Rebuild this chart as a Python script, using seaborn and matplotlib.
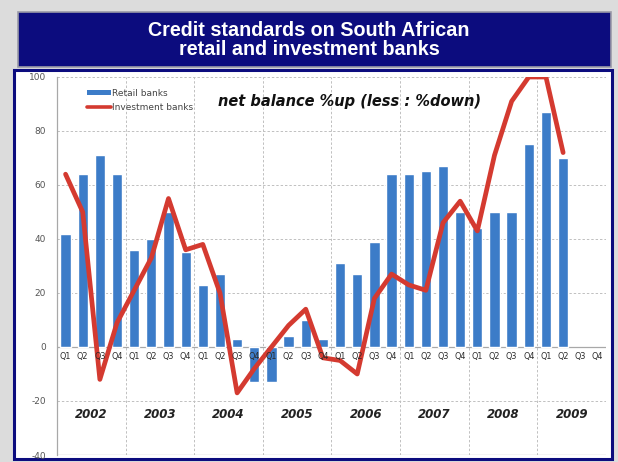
import numpy as np
import pandas as pd
import seaborn as sns
import matplotlib
matplotlib.use("Agg")
import matplotlib.pyplot as plt
from matplotlib.patches import Rectangle
from matplotlib.lines import Line2D
from matplotlib.patches import Patch

# ---- data ----
years = ["2002", "2003", "2004", "2005", "2006", "2007", "2008", "2009"]
quarter_names = ["Q1", "Q2", "Q3", "Q4"]
retail = [42, 64, 71, 64,
          36, 40, 50, 35,
          23, 27, 3, -13,
          -13, 4, 10, 3,
          31, 27, 39, 64,
          64, 65, 67, 50,
          44, 50, 50, 75,
          87, 70, np.nan, np.nan]
investment = [64, 50, -12, 9,
              21, 33, 55, 36,
              38, 20, -17, -8,
              0, 8, 14, -4,
              -5, -10, 18, 27,
              23, 21, 46, 54,
              43, 71, 91, 100,
              100, 72, np.nan, np.nan]
y_ticks = [-40, -20, 0, 20, 40, 60, 80, 100]
title = "Credit standards on South African\nretail and investment banks"
note = "net balance %up (less : %down)"

labels_q = [q for y in years for q in quarter_names]
df = pd.DataFrame({
    "pos": np.arange(len(labels_q)),
    "quarter": labels_q,
    "year": [y for y in years for q in quarter_names],
    "retail": retail,
    "investment": investment,
})

sns.set_theme(style="white")
plt.rcParams['font.family'] = ['DejaVu Sans']

BAR = "#3c7cc8"
RED = "#d43a30"
NAVY = "#0c0c7e"

fig = plt.figure(figsize=(6.18, 4.62), dpi=100)
fig.patch.set_facecolor("#dcdcdc")

# title box and chart frame
fig.patches.append(Rectangle((0.029, 0.855), 0.9595, 0.119, transform=fig.transFigure,
                             facecolor=NAVY, edgecolor="#9a9aa8", lw=1.2, zorder=-2))
fig.patches.append(Rectangle((0.0227, 0.0065), 0.9676, 0.842, transform=fig.transFigure,
                             facecolor="white", edgecolor=NAVY, lw=2.2, zorder=-2))
fig.text(0.5, 0.9145, title, ha="center", va="center", color="white",
         fontsize=14.2, fontweight="bold", family="Liberation Sans", linespacing=1.0)

ax = fig.add_axes([0.0922, 0.01515, 0.8884, 0.8182])
ax.set_facecolor("white")

sns.barplot(data=df.dropna(subset=["retail"]), x="pos", y="retail", native_scale=True,
            color=BAR, saturation=1, width=0.6, ax=ax, zorder=3)
sns.lineplot(data=df, x="pos", y="investment", color=RED, lw=3.4, ax=ax, zorder=4)

ax.set_xlim(-0.5, len(labels_q) - 0.5)
ax.set_ylim(-40, 100)
ax.set_yticks(y_ticks)
ax.set_yticklabels([str(t) for t in y_ticks], fontsize=6.5, color="#555555")
ax.tick_params(axis="y", length=0, pad=8)
ax.set_xticks([])
ax.set_xlabel("")
ax.set_ylabel("")

for t in y_ticks:
    if t in (0, -40):
        ax.axhline(t, color="#a8a8a8", lw=0.9, zorder=2)
    else:
        ax.axhline(t, color="#c0c0c0", lw=0.7, ls=(0, (2.5, 2)), zorder=1)
for k in range(1, len(years)):
    ax.axvline(4 * k - 0.5, color="#c0c0c0", lw=0.7, ls=(0, (2.5, 2)), zorder=1)

for s in ["top", "right", "bottom"]:
    ax.spines[s].set_visible(False)
ax.spines["left"].set_color("#a8a8a8")
ax.spines["left"].set_linewidth(0.9)

for p, q in zip(df["pos"], df["quarter"]):
    ax.text(p, -2.0, q, ha="center", va="top", fontsize=5.8, color="#2a2a2a", zorder=5)
for i, y in enumerate(years):
    ax.text(4 * i + 1.5, -25, y, ha="center", va="center", fontsize=8.5,
            fontweight="bold", fontstyle="italic", color="#222222")

ax.text(8.9, 91, note, ha="left", va="center", fontsize=10.5,
        fontweight="bold", fontstyle="italic", color="#111111")

handles = [Patch(facecolor=BAR, edgecolor="none"), Line2D([], [], color=RED, lw=2.6)]
leg = ax.legend(handles, ["Retail banks", "Investment banks"], loc="upper left",
                bbox_to_anchor=(0.04, 0.99), frameon=False, fontsize=6.5,
                handlelength=2.6, handleheight=0.5, handletextpad=0.2, labelspacing=0.6)
for t in leg.get_texts():
    t.set_color("#444444")

fig.savefig("out.png", dpi=100, facecolor=fig.get_facecolor())
